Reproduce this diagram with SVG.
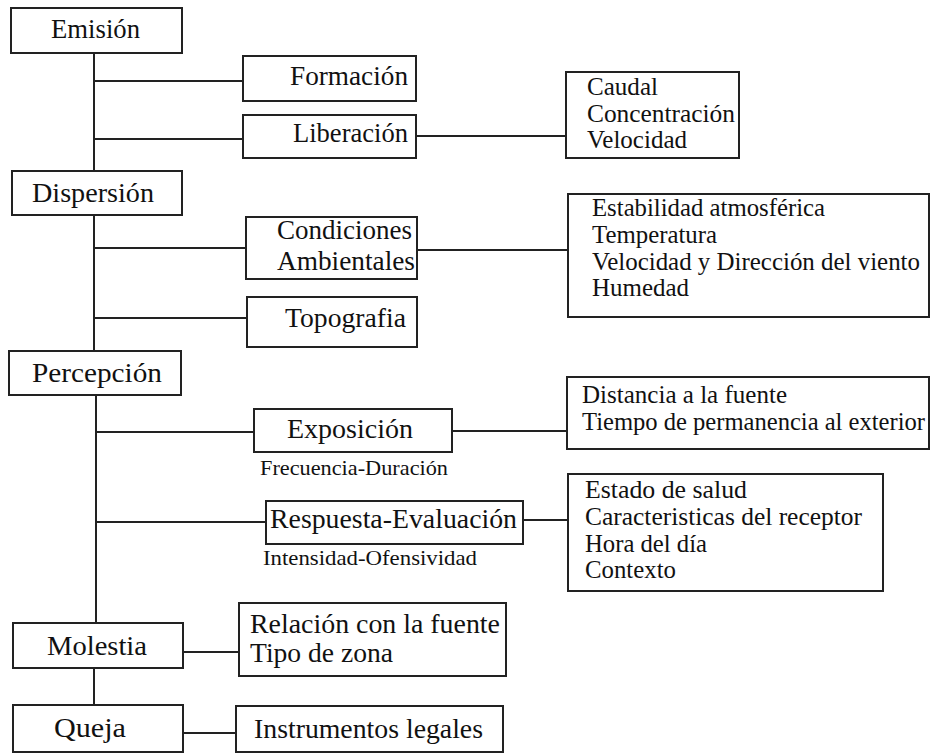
<svg xmlns="http://www.w3.org/2000/svg" width="930" height="753" viewBox="0 0 930 753">
<style>
rect{fill:#fff;stroke:#222;stroke-width:2}
.c line{stroke:#222;stroke-width:2}
.m{font-size:27px}
.l{font-size:25px}
.s{font-size:22px}
</style>
<rect x="0" y="0" width="930" height="753" style="stroke:none"/>
<g class="c" id="connectors">
<line x1="94" y1="53" x2="94" y2="171"/>
<line x1="94" y1="81" x2="243" y2="81"/>
<line x1="94" y1="139" x2="243" y2="139"/>
<line x1="416" y1="136" x2="566" y2="136"/>
<line x1="94" y1="215" x2="94" y2="351"/>
<line x1="94" y1="248" x2="246" y2="248"/>
<line x1="417" y1="250" x2="568" y2="250"/>
<line x1="94" y1="318" x2="247" y2="318"/>
<line x1="96" y1="395" x2="96" y2="623"/>
<line x1="96" y1="432" x2="254" y2="432"/>
<line x1="452" y1="431" x2="567" y2="431"/>
<line x1="96" y1="522" x2="266" y2="522"/>
<line x1="523" y1="520" x2="568" y2="520"/>
<line x1="183" y1="652" x2="239" y2="652"/>
<line x1="94" y1="668" x2="94" y2="705"/>
<line x1="183" y1="733" x2="236" y2="733"/>
</g>
<g font-family="Liberation Serif, DejaVu Serif, serif" fill="#111">
<g id="emision"><rect x="11" y="8" width="171" height="45"/><text class="m" x="51" y="38" textLength="89" lengthAdjust="spacingAndGlyphs">Emisión</text></g>
<g id="formacion"><rect x="243" y="56" width="173" height="45"/><text class="m" x="290" y="85" textLength="118" lengthAdjust="spacingAndGlyphs">Formación</text></g>
<g id="liberacion"><rect x="243" y="115" width="173" height="43"/><text class="m" x="293" y="142" textLength="115" lengthAdjust="spacingAndGlyphs">Liberación</text></g>
<g id="caudal"><rect x="566" y="72" width="173" height="86"/>
<text class="l" x="587" y="95" textLength="71" lengthAdjust="spacingAndGlyphs">Caudal</text>
<text class="l" x="587" y="122" textLength="148" lengthAdjust="spacingAndGlyphs">Concentración</text>
<text class="l" x="587" y="148" textLength="100" lengthAdjust="spacingAndGlyphs">Velocidad</text></g>
<g id="dispersion"><rect x="12" y="171" width="170" height="44"/><text class="m" x="32" y="202" textLength="122" lengthAdjust="spacingAndGlyphs">Dispersión</text></g>
<g id="condiciones"><rect x="246" y="217" width="171" height="62"/>
<text class="m" x="277" y="239" textLength="135" lengthAdjust="spacingAndGlyphs">Condiciones</text>
<text class="m" x="277" y="270" textLength="138" lengthAdjust="spacingAndGlyphs">Ambientales</text></g>
<g id="estabilidad"><rect x="568" y="194" width="361" height="123"/>
<text class="l" x="592" y="216" textLength="233" lengthAdjust="spacingAndGlyphs">Estabilidad atmosférica</text>
<text class="l" x="592" y="243" textLength="125" lengthAdjust="spacingAndGlyphs">Temperatura</text>
<text class="l" x="592" y="270" textLength="328" lengthAdjust="spacingAndGlyphs">Velocidad y Dirección del viento</text>
<text class="l" x="592" y="296" textLength="97" lengthAdjust="spacingAndGlyphs">Humedad</text></g>
<g id="topografia"><rect x="247" y="297" width="170" height="50"/><text class="m" x="285" y="327" textLength="121" lengthAdjust="spacingAndGlyphs">Topografia</text></g>
<g id="percepcion"><rect x="9" y="351" width="172" height="44"/><text class="m" x="32" y="382" textLength="130" lengthAdjust="spacingAndGlyphs">Percepción</text></g>
<g id="exposicion"><rect x="254" y="409" width="198" height="43"/><text class="m" x="287" y="438" textLength="126" lengthAdjust="spacingAndGlyphs">Exposición</text>
<text class="s" x="260" y="475" textLength="188" lengthAdjust="spacingAndGlyphs">Frecuencia-Duración</text></g>
<g id="distancia"><rect x="567" y="377" width="362" height="72"/>
<text class="l" x="582" y="403" textLength="205" lengthAdjust="spacingAndGlyphs">Distancia a la fuente</text>
<text class="l" x="582" y="430" textLength="343" lengthAdjust="spacingAndGlyphs">Tiempo de permanencia al exterior</text></g>
<g id="respuesta"><rect x="266" y="501" width="257" height="43"/><text class="m" x="270" y="528" textLength="247" lengthAdjust="spacingAndGlyphs">Respuesta-Evaluación</text>
<text class="s" x="263" y="565" textLength="214" lengthAdjust="spacingAndGlyphs">Intensidad-Ofensividad</text></g>
<g id="estado"><rect x="568" y="474" width="315" height="117"/>
<text class="l" x="585" y="498" textLength="162" lengthAdjust="spacingAndGlyphs">Estado de salud</text>
<text class="l" x="585" y="525" textLength="277" lengthAdjust="spacingAndGlyphs">Caracteristicas del receptor</text>
<text class="l" x="585" y="552" textLength="122" lengthAdjust="spacingAndGlyphs">Hora del día</text>
<text class="l" x="585" y="578" textLength="91" lengthAdjust="spacingAndGlyphs">Contexto</text></g>
<g id="molestia"><rect x="13" y="623" width="170" height="45"/><text class="m" x="47" y="655" textLength="100" lengthAdjust="spacingAndGlyphs">Molestia</text></g>
<g id="relacion"><rect x="239" y="603" width="267" height="73"/>
<text class="m" x="250" y="633" textLength="250" lengthAdjust="spacingAndGlyphs">Relación con la fuente</text>
<text class="m" x="250" y="662" textLength="143" lengthAdjust="spacingAndGlyphs">Tipo de zona</text></g>
<g id="queja"><rect x="13" y="705" width="170" height="47"/><text class="m" x="54" y="737" textLength="72" lengthAdjust="spacingAndGlyphs">Queja</text></g>
<g id="instrumentos"><rect x="236" y="706" width="267" height="46"/><text class="m" x="254" y="738" textLength="229" lengthAdjust="spacingAndGlyphs">Instrumentos legales</text></g>
</g>
</svg>
